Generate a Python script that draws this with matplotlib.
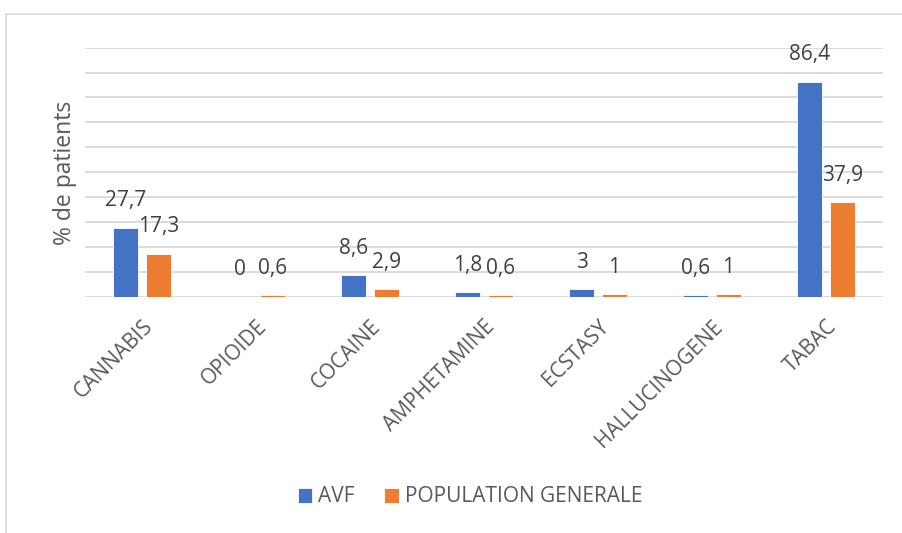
import matplotlib.pyplot as plt
import numpy as np
from matplotlib.patches import Rectangle

plt.rcParams['font.family'] = ['Open Sans', 'DejaVu Sans']

categories = ["CANNABIS", "OPIOIDE", "COCAINE", "AMPHETAMINE", "ECSTASY", "HALLUCINOGENE", "TABAC"]
avf = [27.7, 0, 8.6, 1.8, 3, 0.6, 86.4]
pop_generale = [17.3, 0.6, 2.9, 0.6, 1, 1, 37.9]
series_names = ["AVF", "POPULATION GENERALE"]

blue = "#4472C4"
orange = "#ED7D31"

fig = plt.figure(figsize=(9.03, 5.33), dpi=100)
ax = fig.add_axes([85 / 903, 1 - 296.7 / 533, 798 / 903, 249 / 533])

# outer chart frame (cropped on right / bottom)
fig.patches.append(Rectangle((6 / 903, -0.1), 1.2, 0.1 + 1 - 14 / 533,
                             transform=fig.transFigure, fill=False,
                             edgecolor="#D9D9D9", linewidth=1.2))

x = np.arange(len(categories))
w = 0.22
off = 0.143
b1 = ax.bar(x - off, avf, w, color=blue, edgecolor="white", linewidth=0.6,
            label=series_names[0], zorder=3)
b2 = ax.bar(x + off, pop_generale, w, color=orange, edgecolor="white", linewidth=0.6,
            label=series_names[1], zorder=3)

def fmt(v):
    return f"{v:g}".replace(".", ",")

for bars, vals in [(b1, avf), (b2, pop_generale)]:
    for rect, v in zip(bars, vals):
        ax.annotate(fmt(v), (rect.get_x() + rect.get_width() / 2, v),
                    xytext=(0, 27), textcoords="offset pixels",
                    ha="center", va="center", fontsize=15, color="#404040")

ax.set_xlim(-0.5, len(categories) - 0.5)
ax.set_ylim(0, 100)
ax.set_yticks(np.arange(0, 101, 10))
ax.yaxis.grid(True, color="#D9D9D9", linewidth=1.3, zorder=0)
ax.tick_params(axis="y", length=0, labelleft=False)
ax.tick_params(axis="x", length=0, pad=14)
for s in ax.spines.values():
    s.set_visible(False)

ax.set_xticks(x)
ax.set_xticklabels(categories, rotation=45, ha="right", rotation_mode="anchor",
                   fontsize=15, color="#595959")

fig.text(65 / 903, 1 - 173 / 533, "% de patients", rotation=90, ha="center", va="center",
         fontsize=16.5, color="#595959")

fig.legend(handles=[b1, b2], labels=series_names, loc="center",
           bbox_to_anchor=(470 / 903, 1 - 497 / 533), ncol=2, frameon=False,
           fontsize=15, labelcolor="#595959", handlelength=0.7, handleheight=0.7,
           handletextpad=0.3, columnspacing=1.4)

fig.savefig("out.png", dpi=100)
